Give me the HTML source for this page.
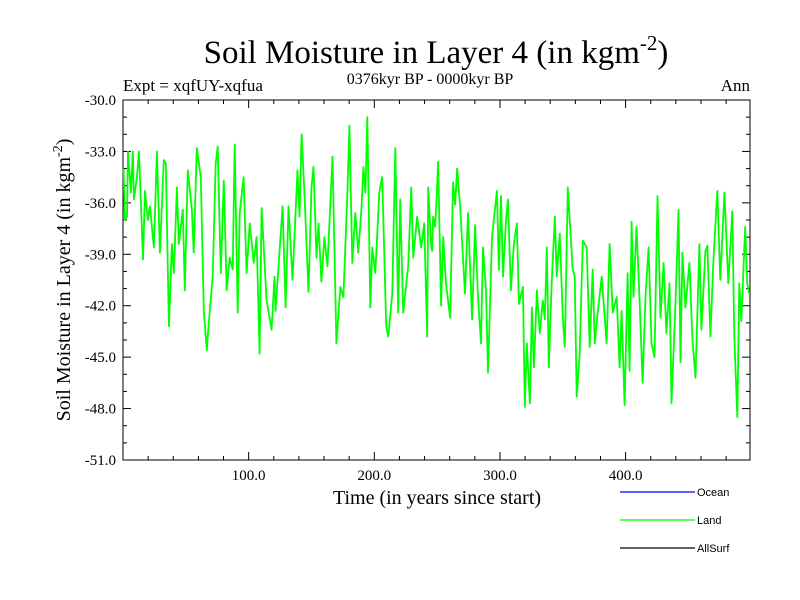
<!DOCTYPE html>
<html><head><meta charset="utf-8"><style>
body{margin:0;background:#fff;}
svg{display:block;font-family:"Liberation Serif",serif;}
</style></head><body>
<svg id="c" width="800" height="600" xmlns="http://www.w3.org/2000/svg">
<text x="436" y="63" font-size="33" text-anchor="middle">Soil Moisture in Layer 4 (in kgm<tspan dy="-13" font-size="21">-2</tspan><tspan dy="13">)</tspan></text>
<text x="430" y="84" font-size="16" text-anchor="middle">0376kyr BP - 0000kyr BP</text>
<text x="123" y="91" font-size="17">Expt = xqfUY-xqfua</text>
<text x="750" y="91" font-size="17" text-anchor="end">Ann</text>
<text transform="translate(70,280) rotate(-90)" font-size="20" text-anchor="middle">Soil Moisture in Layer 4 (in kgm<tspan dy="-8" font-size="14">-2</tspan><tspan dy="8">)</tspan></text>
<text x="437" y="504" font-size="20" text-anchor="middle">Time (in years since start)</text>
<g id="axes"></g>
<g id="series"></g>
<g id="legend" font-family="Liberation Sans, sans-serif" font-size="11">
<g><line x1="620" y1="492" x2="695" y2="492" stroke="#0000ff" stroke-width="1.2"/><text x="697" y="496">Ocean</text></g>
<g><line x1="620" y1="520" x2="695" y2="520" stroke="#00ff00" stroke-width="1.2"/><text x="697" y="524">Land</text></g>
<g><line x1="620" y1="548" x2="695" y2="548" stroke="#000" stroke-width="1.2"/><text x="697" y="552">AllSurf</text></g>
</g>
</svg>
<script>
const years=[0.5,1.5,3.2,4,6.3,7.9,8.7,11.1,12.7,15.9,17.5,19.8,21.4,24.6,27,29.4,32.5,34.1,36.5,38.9,40.5,42.9,44.4,47.6,49.2,51.6,54.8,56.3,58.7,61.9,64.3,66.7,68.3,71.4,73.8,75.4,77.8,80.2,82.5,84.9,87.3,88.9,91.3,92.9,96,98.4,100.8,104,106.3,108.7,110.3,114.3,118.3,120.6,121.4,127,129.4,131.7,134.9,138.9,140.5,142.1,144.4,147.6,150,151.6,154,155.6,157.9,160.3,162.7,166.7,169.8,173,175.4,178.6,180.2,182.5,184.9,187.3,189.7,191.3,192.9,194.4,196.8,198.4,200.8,204,206.3,209.5,211.1,214.3,216.7,219,220.6,223,227,229.4,231,234.1,237.3,239.7,242.1,242.9,245.2,246,246.8,248.4,250,250.8,253.2,254.8,257.1,260.3,262.7,264.3,265.9,268.3,272.2,274.6,277.8,280.2,282.5,284.9,286.5,288.9,290.5,293.7,296,297.6,299.2,300.8,302.4,304.8,306.3,308.7,311.1,313.5,315.1,318.3,319.8,321.4,323.8,325.4,327,329.4,331.7,334.1,335.7,337.3,338.9,341.3,343.7,345.2,347.6,350,351.6,354,357.9,359.5,361.1,363.5,365.9,369,371.4,373.8,375.4,377.8,381,384.9,387.3,389.7,392.9,395.2,396.8,399.2,401.6,403.2,404.8,406.3,408.7,411.1,413.5,415.9,418.3,420.6,423,425.4,427.8,430.2,432.5,434.9,436.5,439.7,442.1,443.7,445.2,447.6,450.8,453.2,455.6,458.7,460.3,463.5,465.1,467.5,469.8,473,475.4,478.6,481.7,484.9,486.5,488.9,490.5,492.1,495.2,496.8,498.4];
const landValues=[-34.0,-37.0,-36.8,-33.0,-35.4,-33.0,-35.8,-34.5,-33.0,-39.3,-35.3,-37.0,-36.2,-38.6,-33.0,-38.9,-33.5,-33.7,-43.2,-38.4,-40.1,-35.1,-38.4,-36.4,-41.1,-34.1,-36.4,-38.9,-32.8,-34.5,-42.3,-44.6,-43.0,-40.3,-33.7,-32.7,-40.1,-34.7,-41.1,-39.2,-39.9,-32.6,-42.4,-36.6,-34.5,-40.1,-37.2,-39.5,-38.0,-44.8,-36.3,-41.7,-43.4,-40.3,-42.3,-36.2,-42.1,-36.2,-40.5,-34.1,-36.8,-32.0,-35.4,-41.2,-35.1,-33.9,-39.2,-37.2,-40.6,-38.0,-39.7,-33.3,-44.2,-40.9,-41.5,-35.4,-31.5,-39.5,-36.6,-38.9,-36.4,-33.9,-35.4,-31.0,-42.1,-38.6,-40.1,-35.4,-34.5,-43.2,-43.8,-41.3,-32.8,-42.4,-35.8,-42.4,-39.7,-35.1,-39.2,-36.8,-38.6,-37.2,-43.8,-35.1,-38.4,-38.8,-36.8,-37.4,-35.1,-33.6,-42.0,-38.0,-40.7,-42.7,-34.8,-36.1,-34.0,-36.2,-41.3,-36.6,-42.8,-37.3,-41.5,-44.2,-38.6,-41.1,-45.9,-38.0,-36.4,-35.3,-39.9,-35.6,-40.3,-37.0,-35.8,-41.1,-38.4,-37.2,-41.9,-40.9,-47.9,-44.2,-47.7,-42.1,-45.6,-41.1,-43.6,-41.7,-42.8,-38.6,-45.6,-40.5,-36.8,-40.3,-37.8,-42.7,-44.4,-35.1,-39.9,-40.3,-47.3,-44.8,-38.2,-38.6,-44.4,-39.9,-44.2,-42.4,-40.3,-44.2,-38.4,-42.4,-41.5,-45.6,-42.3,-47.8,-40.1,-45.8,-37.1,-41.5,-37.4,-41.7,-46.5,-41.3,-38.6,-44.2,-45.0,-35.6,-42.7,-39.5,-43.6,-40.7,-47.7,-41.8,-36.4,-45.3,-38.9,-42.1,-39.5,-44.0,-46.2,-38.4,-43.4,-38.8,-38.5,-43.8,-39.5,-35.3,-40.5,-35.4,-40.7,-36.5,-43.8,-48.5,-40.7,-42.9,-37.4,-40.7,-41.3];
const yTicks=[-30,-33,-36,-39,-42,-45,-48,-51];
const yTickLabels=["-30.0","-33.0","-36.0","-39.0","-42.0","-45.0","-48.0","-51.0"];
const xTicks=[100,200,300,400];
const xTickLabels=["100.0","200.0","300.0","400.0"];

const L=123,R=750,T=100,B=460,X0=0,X1=499,Y0=-51,Y1=-30;
const sx=v=>L+(v-X0)/(X1-X0)*(R-L);
const sy=v=>B-(v-Y0)/(Y1-Y0)*(B-T);
const NS="http://www.w3.org/2000/svg";
const ax=document.getElementById('axes');
function mk(t,a,p){const e=document.createElementNS(NS,t);for(const k in a)e.setAttribute(k,a[k]);(p||ax).appendChild(e);return e;}
const frame=mk('rect',{x:L,y:T,width:R-L,height:B-T,fill:'none',stroke:'#000','stroke-width':1});


for(let v=Y0;v<=Y1;v++){const major=((v-Y1)%3===0);const len=major?8:4;const y=sy(v);
 mk('line',{x1:L,y1:y,x2:L+len,y2:y,stroke:'#000'});mk('line',{x1:R,y1:y,x2:R-len,y2:y,stroke:'#000'});}
yTicks.forEach((v,i)=>{const t=mk('text',{x:L-7,y:sy(v)+5,'font-size':15,'text-anchor':'end'});t.textContent=yTickLabels[i];
 
 });
for(let v=20;v<X1;v+=20){const major=v%100===0;const len=major?8:4;const x=sx(v);
 mk('line',{x1:x,y1:B,x2:x,y2:B-len,stroke:'#000'});mk('line',{x1:x,y1:T,x2:x,y2:T+len,stroke:'#000'});}
xTicks.forEach((v,i)=>{const t=mk('text',{x:sx(v),y:B+20,'font-size':15,'text-anchor':'middle'});t.textContent=xTickLabels[i];
 
 });
const d=years.map((yr,i)=>(i?'L':'M')+sx(yr).toFixed(1)+','+sy(landValues[i]).toFixed(1)).join('');
const p=mk('path',{d:d,fill:'none',stroke:'#00ff00','stroke-width':1.8,'stroke-linejoin':'round'},document.getElementById('series'));


</script>
</body></html>
